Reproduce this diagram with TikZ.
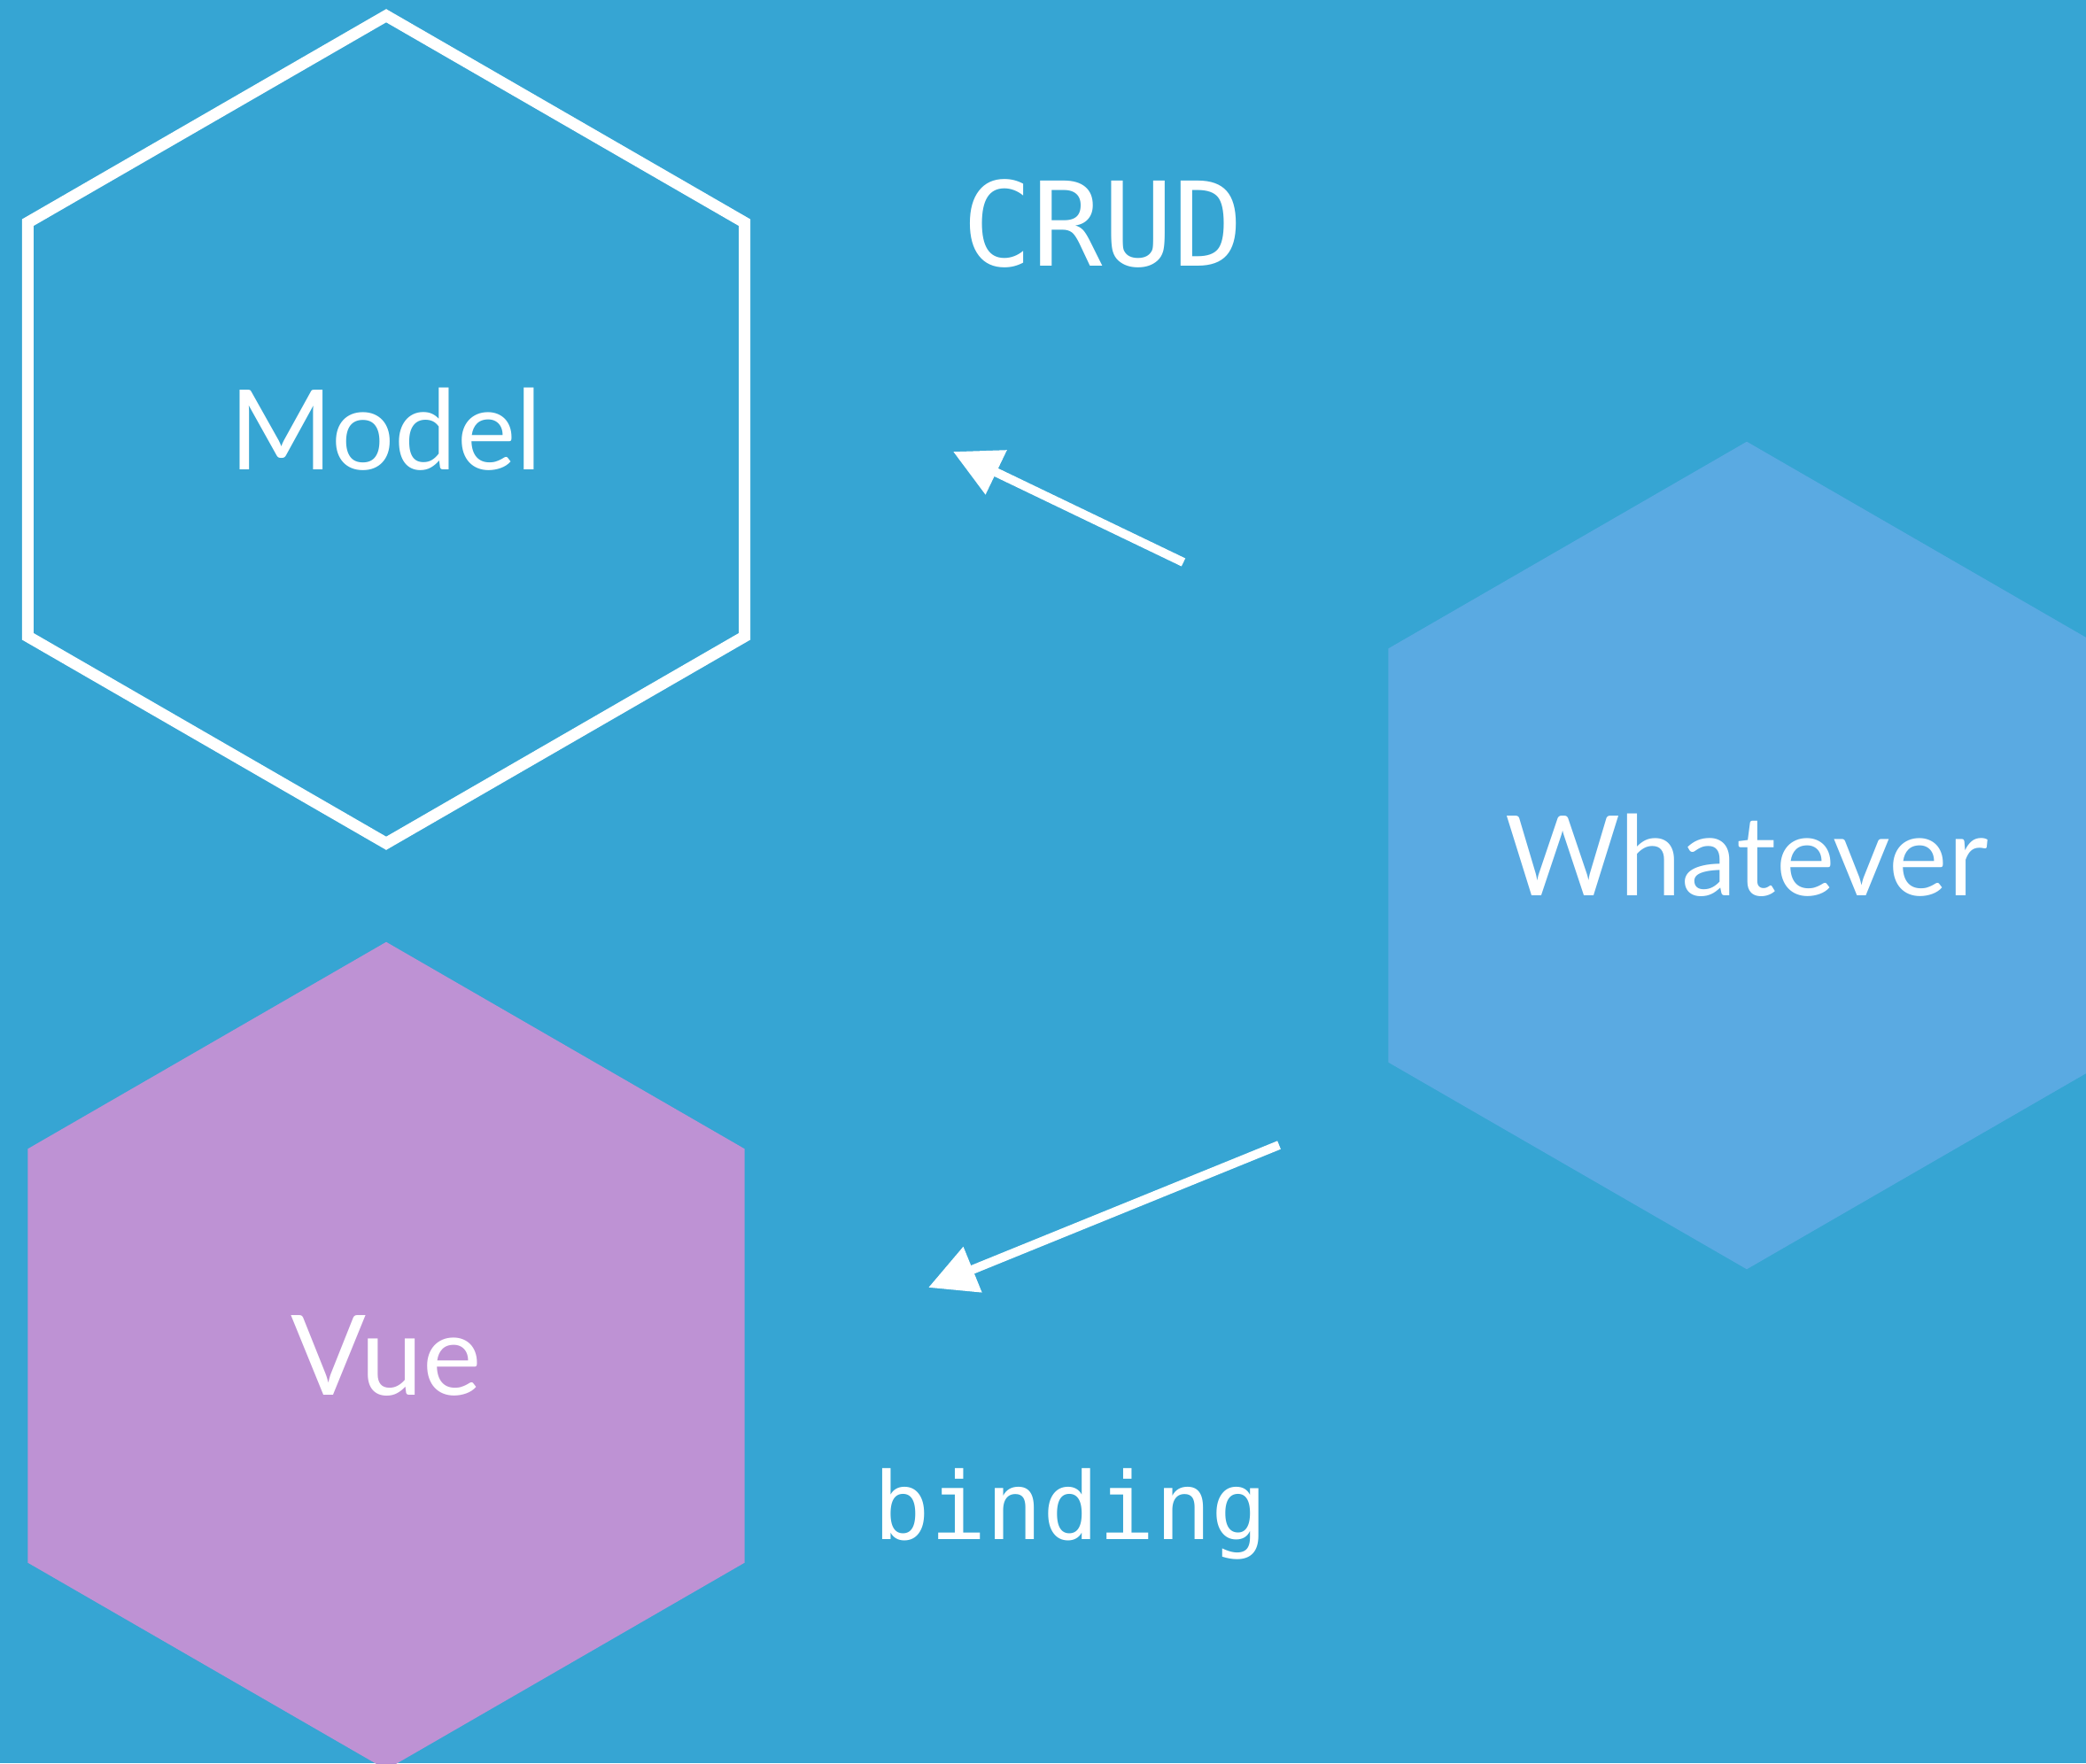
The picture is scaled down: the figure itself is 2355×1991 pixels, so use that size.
\documentclass[tikz,border=0pt]{standalone}
\usepackage{fontspec}
\setmainfont{Lato}
\setmonofont{DejaVu Sans Mono}
\usepackage{tikz}
\usetikzlibrary{arrows.meta,shapes.geometric}

\definecolor{bgblue}{HTML}{36A5D3}
\definecolor{skyblue}{HTML}{5AAAE2}
\definecolor{lilac}{HTML}{BE92D4}

\begin{document}
\begin{tikzpicture}[x=0.01cm, y=-0.01cm]
	\fill[bgblue] (0,0) rectangle (2355,1991);
	\useasboundingbox (0,0) rectangle (2355,1991);
	\clip (0,0) rectangle (2355,1991);
	\begin{scope}[every node/.style = {regular polygon, regular polygon sides=6,
		shape border rotate=30, minimum size=9.34cm, inner sep=0pt,
		text=white, font=\fontsize{35.7}{40}\selectfont}]
		\node[draw=white, line width=3.7pt] (model) at (436,485) {Model};
		\node[fill=lilac] (vue) at (436,1531) {Vue};
		\node[fill=skyblue] (whatever) at (1972,966) {Whatever};
	\end{scope}
	\begin{scope}[every node/.style = {text=white, anchor=base}]
		\node[font=\ttfamily\fontsize{37.5}{42}\selectfont] (crud) at (1245,300) {CRUD};
		\node[font=\ttfamily\fontsize{30}{34}\selectfont] (binding) at (1209,1738) {binding};
	\end{scope}
	\coordinate (crudtail) at (1336,635);
	\coordinate (crudtip) at (1076,510);
	\coordinate (bindtail) at (1444,1293);
	\coordinate (bindtip) at (1048,1454);
	\begin{scope}[>={Triangle[length=0.54cm, width=0.53cm]},
			every edge/.style={draw=white, line width=2.85pt}]
		\path [->] (crudtail) edge  (crudtip);
		\path [->] (bindtail) edge  (bindtip);
	\end{scope}
\end{tikzpicture}
\end{document}
